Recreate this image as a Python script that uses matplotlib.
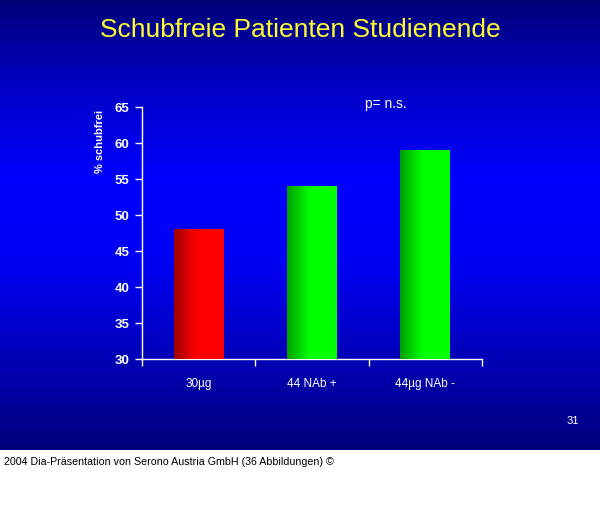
import numpy as np
from matplotlib import pyplot
from matplotlib.colors import LinearSegmentedColormap

categories = ["30µg", "44 NAb +", "44µg NAb -"]
values = [48, 54, 59]
bar_colors = ["#ff0000", "#00ff00", "#00ff00"]
bar_dark = ["#a00000", "#00a000", "#00a000"]
y_ticks = [30, 35, 40, 45, 50, 55, 60, 65]

pyplot.rcParams["font.family"] = ["Liberation Sans", "DejaVu Sans"]

fig = pyplot.figure(
    figsize=(6, 5.12),
    dpi=100,
    facecolor="white",
)

# slide background: dark at top and bottom, bright blue in the middle
slide_bottom = 1 - 450 / 512
bg = fig.add_axes([0, slide_bottom, 1, 1 - slide_bottom])
bg_cmap = LinearSegmentedColormap.from_list(
    "slide",
    [
        (0.0, "#000078"),
        (0.2, "#0000c8"),
        (0.4, "#0000ff"),
        (0.6, "#0000f0"),
        (1.0, "#00007c"),
    ],
)
bg.imshow(
    np.linspace(0, 1, 256).reshape(-1, 1),
    cmap=bg_cmap,
    aspect="auto",
    extent=[0, 1, 0, 1],
)
bg.set_axis_off()

ax = fig.add_axes([142 / 600, 1 - 359 / 512, 340 / 600, 252 / 512])
ax.patch.set_alpha(0)

x = np.arange(len(categories))
bars = ax.bar(
    x,
    [v - 30 for v in values],
    bottom=30,
    width=0.44,
    color=bar_colors,
    zorder=2,
)
# horizontal shading inside each bar
for bar, light, dark in zip(bars, bar_colors, bar_dark):
    cmap = LinearSegmentedColormap.from_list(
        "shade",
        [(0.0, dark), (0.45, light), (0.8, light), (1.0, light)],
    )
    x0, y0 = bar.get_x(), bar.get_y()
    w, h = bar.get_width(), bar.get_height()
    im = ax.imshow(
        np.linspace(0, 1, 64).reshape(1, -1),
        cmap=cmap,
        aspect="auto",
        extent=[x0, x0 + w, y0, y0 + h],
        zorder=3,
    )
    im.set_clip_path(bar)

ax.set_xlim(-0.5, 2.5)
ax.set_ylim(30, 65)
ax.set_yticks(y_ticks)
ax.set_yticklabels(
    [str(t) for t in y_ticks],
    fontsize=9.5,
    fontweight="bold",
    color="white",
)
ax.set_xticks([-0.5, 0.5, 1.5, 2.5])
ax.set_xticklabels([])
ax.set_xticks(x, minor=True)
ax.set_xticklabels(categories, minor=True, fontsize=8.5, color="white")
ax.tick_params(axis="x", which="minor", length=0, pad=14)
ax.tick_params(axis="both", which="major", color="white", length=5, width=1)
ax.tick_params(axis="y", pad=4)

for side in ["top", "right"]:
    ax.spines[side].set_visible(False)
for side in ["left", "bottom"]:
    ax.spines[side].set_color("white")
    ax.spines[side].set_linewidth(1)

ax.text(
    -0.124,
    0.865,
    "% schubfrei",
    transform=ax.transAxes,
    rotation=90,
    ha="center",
    va="center",
    fontsize=8,
    fontweight="bold",
    color="white",
)
ax.text(
    0.655,
    1.012,
    "p= n.s.",
    transform=ax.transAxes,
    ha="left",
    va="center",
    fontsize=10,
    color="white",
)

fig.text(
    300 / 600,
    1 - 30 / 512,
    "Schubfreie Patienten Studienende",
    ha="center",
    va="center",
    fontsize=19,
    color="#ffff33",
)
fig.text(
    573 / 600,
    1 - 421 / 512,
    "31",
    ha="center",
    va="center",
    fontsize=8,
    color="white",
)
fig.text(
    4 / 600,
    1 - 462 / 512,
    "2004 Dia-Präsentation von Serono Austria GmbH (36 Abbildungen) ©",
    ha="left",
    va="center",
    fontsize=7.7,
    color="black",
)

pyplot.savefig("out.png", dpi=100, facecolor="white")
